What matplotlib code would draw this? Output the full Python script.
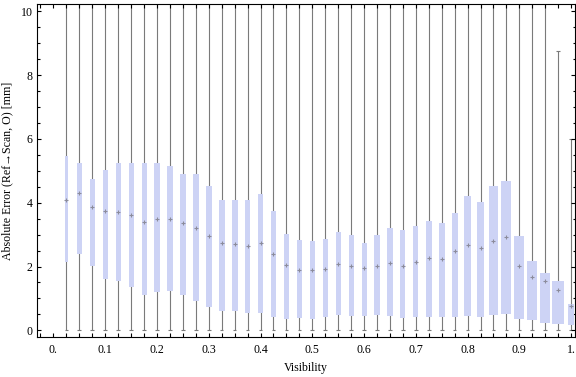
import numpy as np
import matplotlib
matplotlib.use('Agg')
import matplotlib.pyplot as plt
from matplotlib.ticker import FixedLocator, MultipleLocator

# visibility bins (box centres)
visibility = [0.025, 0.05, 0.075, 0.1, 0.125, 0.15, 0.175, 0.2, 0.225, 0.25,
              0.275, 0.3, 0.325, 0.35, 0.375, 0.4, 0.425, 0.45, 0.475, 0.5,
              0.525, 0.55, 0.575, 0.6, 0.625, 0.65, 0.675, 0.7, 0.725, 0.75,
              0.775, 0.8, 0.825, 0.85, 0.875, 0.9, 0.925, 0.95, 0.975, 1.0]

q1 = [2.13, 2.38, 2.02, 1.61, 1.55, 1.35, 1.10, 1.20, 1.23, 1.10,
      0.92, 0.74, 0.61, 0.61, 0.55, 0.55, 0.43, 0.36, 0.37, 0.36,
      0.43, 0.47, 0.46, 0.46, 0.49, 0.46, 0.39, 0.43, 0.43, 0.43,
      0.43, 0.46, 0.43, 0.49, 0.52, 0.36, 0.33, 0.24, 0.21, 0.18]

median = [4.10, 4.29, 3.87, 3.73, 3.70, 3.61, 3.41, 3.48, 3.50, 3.35,
          3.20, 2.97, 2.74, 2.69, 2.64, 2.73, 2.38, 2.05, 1.90, 1.89,
          1.93, 2.09, 2.02, 1.95, 2.02, 2.10, 2.02, 2.14, 2.26, 2.23,
          2.48, 2.68, 2.57, 2.80, 2.94, 2.01, 1.66, 1.53, 1.25, 0.75]

q3 = [5.46, 5.23, 4.73, 5.04, 5.26, 5.23, 5.23, 5.26, 5.16, 4.91,
      4.91, 4.51, 4.10, 4.07, 4.07, 4.26, 3.73, 3.01, 2.82, 2.79,
      2.85, 3.07, 2.98, 2.73, 2.98, 3.20, 3.13, 3.26, 3.42, 3.35,
      3.67, 4.20, 4.01, 4.51, 4.67, 2.95, 2.17, 1.79, 1.54, 0.82]

whisker_lo = [0.0, 0.0, 0.0, 0.0, 0.0, 0.0, 0.0, 0.0, 0.0, 0.0,
              0.0, 0.0, 0.0, 0.0, 0.0, 0.0, 0.0, 0.0, 0.0, 0.0,
              0.0, 0.0, 0.0, 0.0, 0.0, 0.0, 0.0, 0.0, 0.0, 0.0,
              0.0, 0.0, 0.0, 0.0, 0.0, 0.0, 0.0, 0.0, 0.0, 0.0]

# upper whiskers run off the top of the plot for most bins
whisker_hi = [15.0, 15.0, 15.0, 15.0, 15.0, 15.0, 15.0, 15.0, 15.0, 15.0,
              15.0, 15.0, 15.0, 15.0, 15.0, 15.0, 15.0, 15.0, 15.0, 15.0,
              15.0, 15.0, 15.0, 15.0, 15.0, 15.0, 15.0, 15.0, 15.0, 15.0,
              15.0, 15.0, 15.0, 15.0, 15.0, 15.0, 15.0, 15.0, 8.77, 6.0]

# box widths vary per bin (in pixels of the original)
width_px = [3, 5, 5, 5, 5, 5, 5, 6, 6, 6,
            6, 6, 6, 6, 5, 5, 5, 5, 5, 5,
            5, 5, 5, 5, 6, 6, 5, 5, 6, 6,
            6, 7, 7, 9, 10, 10, 10, 10, 12, 6]

x_ticks = [0.0, 0.1, 0.2, 0.3, 0.4, 0.5, 0.6, 0.7, 0.8, 0.9, 1.0]
x_labels = ["0.", "0.1", "0.2", "0.3", "0.4", "0.5", "0.6", "0.7", "0.8", "0.9", "1."]
y_ticks = [0, 2, 4, 6, 8, 10]

serif = ['Liberation Serif', 'DejaVu Serif']
plt.rcParams['font.family'] = serif
plt.rcParams['font.size'] = 8.6

fig = plt.figure(figsize=(5.76, 3.77), dpi=100)
ax = fig.add_axes([0.0637, 0.1061, 0.9346, 0.8825])

xlim = (-0.0323, 1.0075)
ax.set_xlim(*xlim)
ax.set_ylim(-0.21, 10.22)

px_per_unit = 0.9346 * 576 / (xlim[1] - xlim[0])
widths = np.array(width_px) / px_per_unit

x = np.array(visibility)
lo_box = np.array(q1)
hi_box = np.array(q3)

gray = '#7a7a7a'
ax.vlines(x, whisker_lo, whisker_hi, color=gray, lw=0.8, zorder=1)
ax.hlines(whisker_lo, x - 0.0035, x + 0.0035, color=gray, lw=0.8, zorder=1)
ax.hlines(whisker_hi, x - 0.0035, x + 0.0035, color=gray, lw=0.8, zorder=1)
ax.bar(x, hi_box - lo_box, bottom=lo_box, width=widths, color='#cdd3f5',
       edgecolor='none', zorder=2)
ax.plot(x, median, '+', ms=2.6, mew=0.8, color='#8c8c9c', zorder=3, ls='none')

ax.xaxis.set_major_locator(FixedLocator(x_ticks))
ax.set_xticklabels(x_labels)
ax.xaxis.set_minor_locator(MultipleLocator(0.025))
ax.yaxis.set_major_locator(FixedLocator(y_ticks))
ax.yaxis.set_minor_locator(MultipleLocator(0.5))

ax.tick_params(which='both', direction='in', top=True, right=True,
               width=0.8, color='black', labelsize=8.6)
ax.tick_params(axis='x', which='both', length=3.0, pad=5)
ax.tick_params(axis='y', which='major', length=3.0, pad=3)
ax.tick_params(axis='y', which='minor', length=1.8)

for s in ax.spines.values():
    s.set_linewidth(0.8)

ax.set_xlabel("Visibility", fontsize=8.6, labelpad=4)
ax.set_ylabel("Absolute Error (Ref\u2192Scan, O) [mm]", fontsize=8.6, labelpad=5)

fig.savefig("out.png", dpi=100)
